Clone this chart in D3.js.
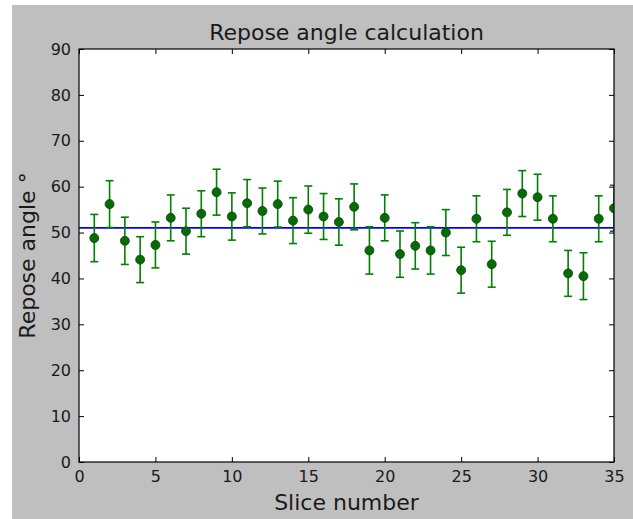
<!DOCTYPE html>
<html>
<head>
<meta charset="utf-8">
<script src="https://cdn.jsdelivr.net/npm/d3@7"></script>
<style>
  body { margin: 0; background: #ffffff; }
  svg text { font-family: "DejaVu Sans", sans-serif; fill: #1a1a1a; }
</style>
</head>
<body>
<svg id="chart" width="633" height="519"></svg>
<script>
// slice numbers and measured repose angles (deg)
var slices = d3.range(1, 36)
var angles = [48.8, 56.2, 48.2, 44.1, 47.3, 53.2, 50.3, 54.1, 58.8, 53.5,
  56.4, 54.7, 56.2, 52.6, 55.0, 53.5, 52.3, 55.6, 46.1, 53.2,
  45.3, 47.1, 46.1, 50.0, 41.8, 53.0, 43.1, 54.4, 58.5, 57.7,
  53.0, 41.1, 40.5, 53.0, 55.3]
var errors = [5.15, 5.1, 5.15, 5.0, 5.0, 5.0, 5.0, 5.0, 5.0, 5.15,
  5.15, 5.0, 5.0, 5.0, 5.15, 5.0, 5.05, 5.0, 5.15, 5.0,
  5.05, 5.05, 5.15, 5.0, 5.0, 5.0, 5.0, 5.0, 5.0, 5.0,
  5.0, 5.0, 5.1, 5.0, 5.0]
var meanAngle = 51.0
var xTicks = [0, 5, 10, 15, 20, 25, 30, 35]
var yTicks = [0, 10, 20, 30, 40, 50, 60, 70, 80, 90]

var svg = d3.select("#chart")
var plotLeft = 79, plotTop = 49, plotRight = 614, plotBottom = 462

svg.append("rect")
  .attr("x", 12).attr("y", 5)
  .attr("width", 633 - 12).attr("height", 519 - 5)
  .attr("fill", "#bfbfbf")

var x = d3.scaleLinear().domain([0, 35]).range([plotLeft, plotRight])
var y = d3.scaleLinear().domain([0, 90]).range([plotBottom, plotTop])

svg.append("clipPath").attr("id", "plotClip")
  .append("rect")
  .attr("x", plotLeft).attr("y", plotTop)
  .attr("width", plotRight - plotLeft).attr("height", plotBottom - plotTop)

svg.append("rect")
  .attr("x", plotLeft).attr("y", plotTop)
  .attr("width", plotRight - plotLeft).attr("height", plotBottom - plotTop)
  .attr("fill", "#ffffff")

var plot = svg.append("g").attr("clip-path", "url(#plotClip)")

// mean line
plot.append("line")
  .attr("x1", x(0)).attr("x2", x(35))
  .attr("y1", y(meanAngle)).attr("y2", y(meanAngle))
  .attr("stroke", "#0000ff").attr("stroke-width", 1.8)

// error bars
var data = slices.map(function(s, i) {
  return { s: s, v: angles[i], e: errors[i] }
})

var bars = plot.selectAll(".err").data(data).enter().append("g")
  .attr("class", "err")
  .attr("stroke", "#008000").attr("stroke-width", 1.6)

bars.append("line")
  .attr("x1", function(d) { return x(d.s) }).attr("x2", function(d) { return x(d.s) })
  .attr("y1", function(d) { return y(d.v - d.e) }).attr("y2", function(d) { return y(d.v + d.e) })
bars.append("line")
  .attr("x1", function(d) { return x(d.s) - 4 }).attr("x2", function(d) { return x(d.s) + 4 })
  .attr("y1", function(d) { return y(d.v + d.e) }).attr("y2", function(d) { return y(d.v + d.e) })
bars.append("line")
  .attr("x1", function(d) { return x(d.s) - 4 }).attr("x2", function(d) { return x(d.s) + 4 })
  .attr("y1", function(d) { return y(d.v - d.e) }).attr("y2", function(d) { return y(d.v - d.e) })

plot.selectAll(".pt").data(data).enter().append("circle")
  .attr("class", "pt")
  .attr("cx", function(d) { return x(d.s) })
  .attr("cy", function(d) { return y(d.v) })
  .attr("r", 4.5)
  .attr("fill", "#006e00")
  .attr("stroke", "#1d3b1d").attr("stroke-width", 0.8)

// axes with inward ticks on all sides
svg.append("g").attr("transform", "translate(0," + plotBottom + ")")
  .call(d3.axisBottom(x).tickValues(xTicks).tickSizeInner(-5).tickSizeOuter(0).tickPadding(9))
  .call(function(g) {
    g.select(".domain").remove()
    g.selectAll("text").attr("font-size", 16).attr("font-family", "DejaVu Sans")
  })
svg.append("g").attr("transform", "translate(0," + plotTop + ")")
  .call(d3.axisTop(x).tickValues(xTicks).tickSizeInner(-5).tickSizeOuter(0).tickFormat(""))
  .call(function(g) { g.select(".domain").remove() })
svg.append("g").attr("transform", "translate(" + plotLeft + ",0)")
  .call(d3.axisLeft(y).tickValues(yTicks).tickSizeInner(-5).tickSizeOuter(0).tickPadding(8))
  .call(function(g) {
    g.select(".domain").remove()
    g.selectAll("text").attr("font-size", 16).attr("font-family", "DejaVu Sans")
  })
svg.append("g").attr("transform", "translate(" + plotRight + ",0)")
  .call(d3.axisRight(y).tickValues(yTicks).tickSizeInner(-5).tickSizeOuter(0).tickFormat(""))
  .call(function(g) { g.select(".domain").remove() })

svg.append("rect")
  .attr("x", plotLeft).attr("y", plotTop)
  .attr("width", plotRight - plotLeft).attr("height", plotBottom - plotTop)
  .attr("fill", "none").attr("stroke", "#000").attr("stroke-width", 1.2)

svg.append("text")
  .attr("x", (plotLeft + plotRight) / 2).attr("y", 40)
  .attr("text-anchor", "middle").attr("font-size", 22)
  .text("Repose angle calculation")

svg.append("text")
  .attr("x", (plotLeft + plotRight) / 2).attr("y", 510)
  .attr("text-anchor", "middle").attr("font-size", 22)
  .text("Slice number")

svg.append("text")
  .attr("transform", "translate(35," + ((plotTop + plotBottom) / 2) + ") rotate(-90)")
  .attr("text-anchor", "middle").attr("font-size", 22)
  .text("Repose angle °")
</script>
</body>
</html>
